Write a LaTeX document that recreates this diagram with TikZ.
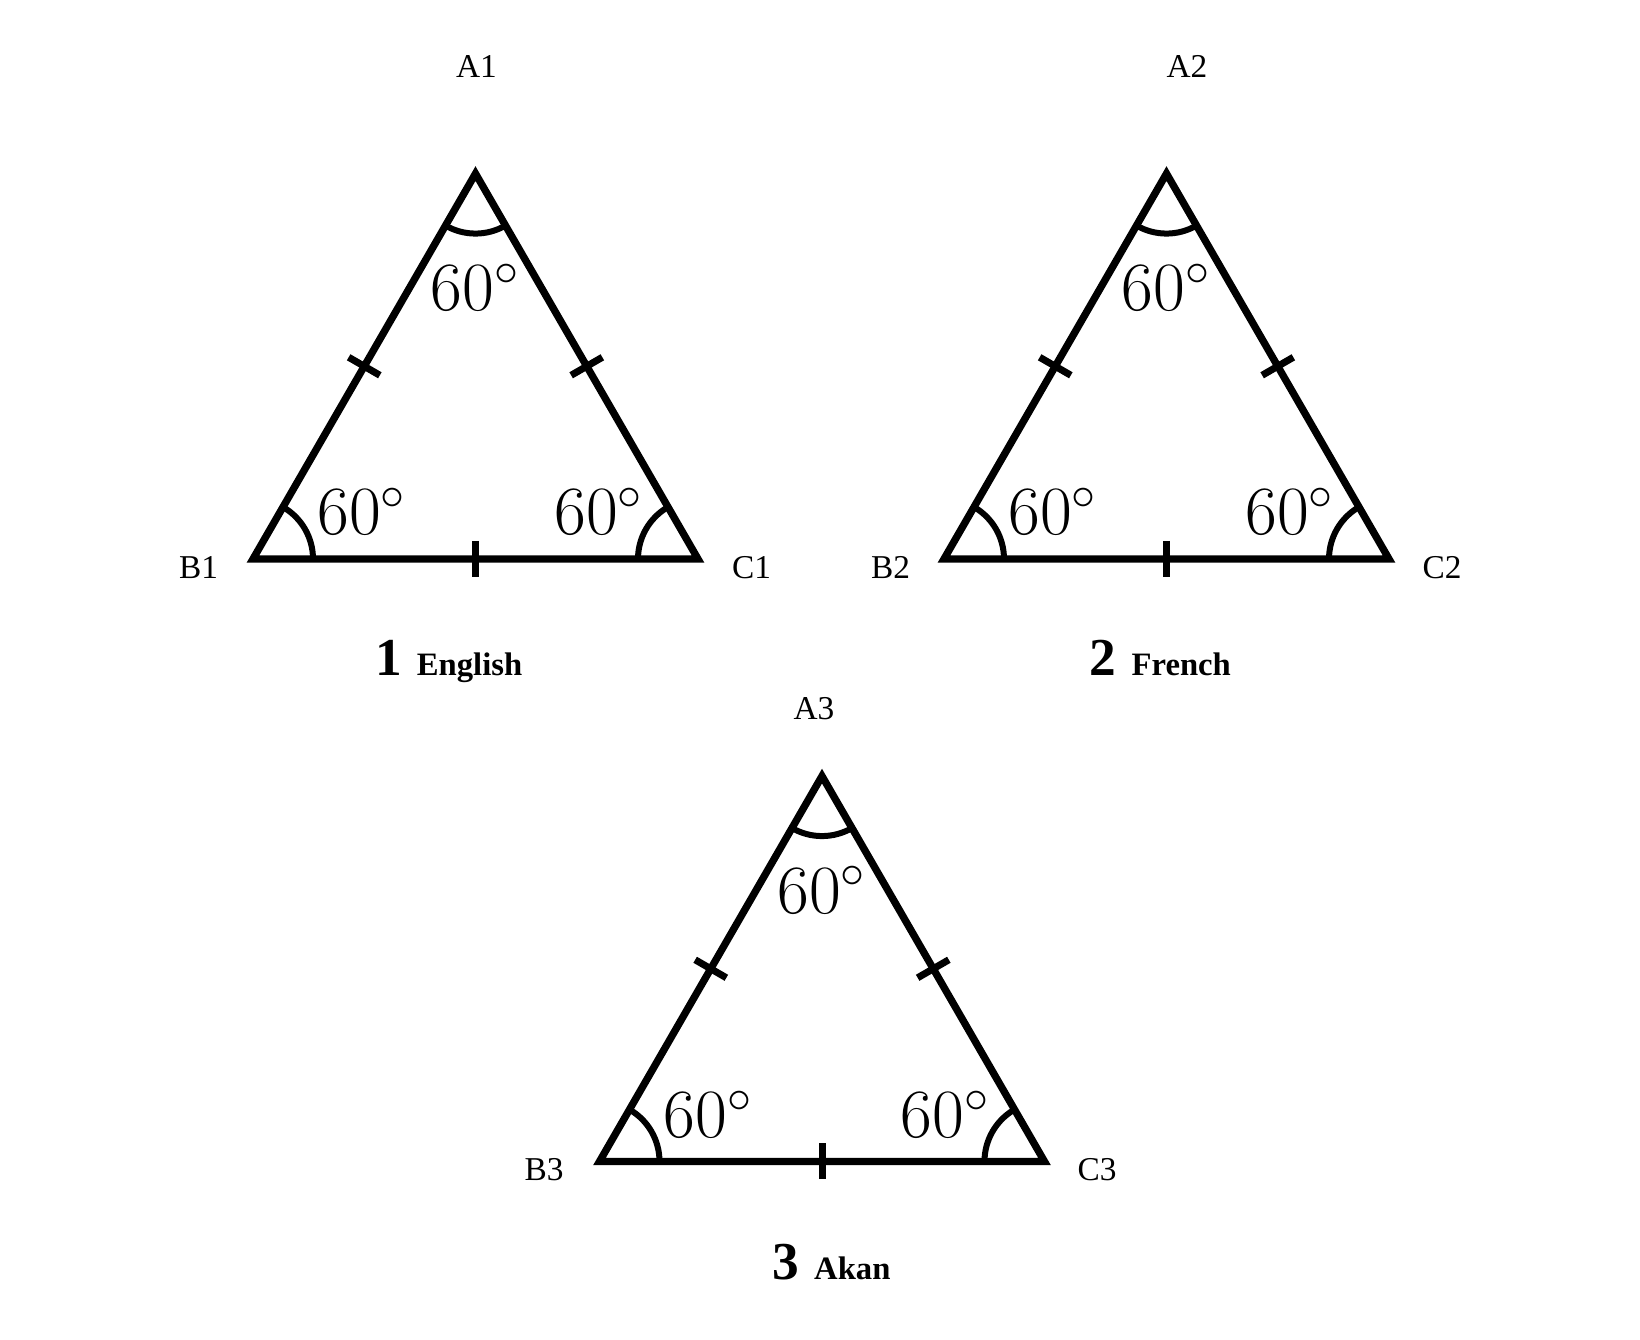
\documentclass[tikz,border=0pt]{standalone}
\usepackage{fontspec}
\newfontfamily\labfont{Liberation Serif}
\usetikzlibrary{calc,angles}
\tikzset{
  tri/.style={line width=2.2pt, line join=miter},
  ang/.style={draw, line width=1.8pt, angle radius=18pt},
  sidetick/.style={line width=2.1pt},
  vlab/.style={inner sep=0pt, font=\labfont\fontsize{10}{12}\selectfont},
  deg/.style={inner sep=0pt, anchor=base, font=\fontsize{19.8}{22}\selectfont},
  capt/.style={inner sep=0pt, anchor=base west, font=\labfont\bfseries},
}
\begin{document}
\begin{tikzpicture}[x=0.3pt,y=0.3pt]
\useasboundingbox (0,0) rectangle (1640,1340);
\foreach \i/\bx/\by in {1/253/781, 2/944/781, 3/599.5/178.5}{
  \coordinate (B\i) at (\bx,\by);
  \coordinate (C\i) at (\bx+445,\by);
  \coordinate (A\i) at (\bx+222.5,\by+385.4);
  \draw[tri] (A\i) -- (B\i) -- (C\i) -- cycle;
  \pic[ang] {angle=C\i--B\i--A\i};
  \pic[ang] {angle=A\i--C\i--B\i};
  \pic[ang] {angle=B\i--A\i--C\i};
  \coordinate (mBC\i) at ($(B\i)!0.5!(C\i)$);
  \coordinate (mAB\i) at ($(A\i)!0.5!(B\i)$);
  \coordinate (mAC\i) at ($(A\i)!0.5!(C\i)$);
  \draw[sidetick] ($(mBC\i)!5.4pt!90:(C\i)$) -- ($(mBC\i)!5.4pt!-90:(C\i)$);
  \draw[sidetick] ($(mAB\i)!5.4pt!90:(B\i)$) -- ($(mAB\i)!5.4pt!-90:(B\i)$);
  \draw[sidetick] ($(mAC\i)!5.4pt!90:(C\i)$) -- ($(mAC\i)!5.4pt!-90:(C\i)$);
  \node[deg] (tA\i) at ($(A\i)+(0,-137)$) {$60^\circ$};
  \node[deg] (tB\i) at ($(B\i)+(109,24)$) {$60^\circ$};
  \node[deg] (tC\i) at ($(C\i)+(-99,24)$) {$60^\circ$};
}
% vertex labels
\node[vlab] (lA1) at (476.5,1273.5) {A1};
\node[vlab] (lB1) at (198.5,772.5) {B1};
\node[vlab] (lC1) at (751.5,772.5) {C1};
\node[vlab] (lA2) at (1187,1273.5) {A2};
\node[vlab] (lB2) at (890.5,772.5) {B2};
\node[vlab] (lC2) at (1442,772.5) {C2};
\node[vlab] (lA3) at (814,631) {A3};
\node[vlab] (lB3) at (544,170.5) {B3};
\node[vlab] (lC3) at (1097,170.5) {C3};
% captions
\node[capt] (cap1) at (374.6,664) {{\fontsize{16}{18}\selectfont 1}\hspace{4.5pt}{\fontsize{9.8}{12}\selectfont English}};
\node[capt] (cap2) at (1089.3,664) {{\fontsize{16}{18}\selectfont 2}\hspace{4.5pt}{\fontsize{9.8}{12}\selectfont French}};
\node[capt] (cap3) at (771.9,60.7) {{\fontsize{16}{18}\selectfont 3}\hspace{4.5pt}{\fontsize{9.8}{12}\selectfont Akan}};
\end{tikzpicture}
\end{document}
